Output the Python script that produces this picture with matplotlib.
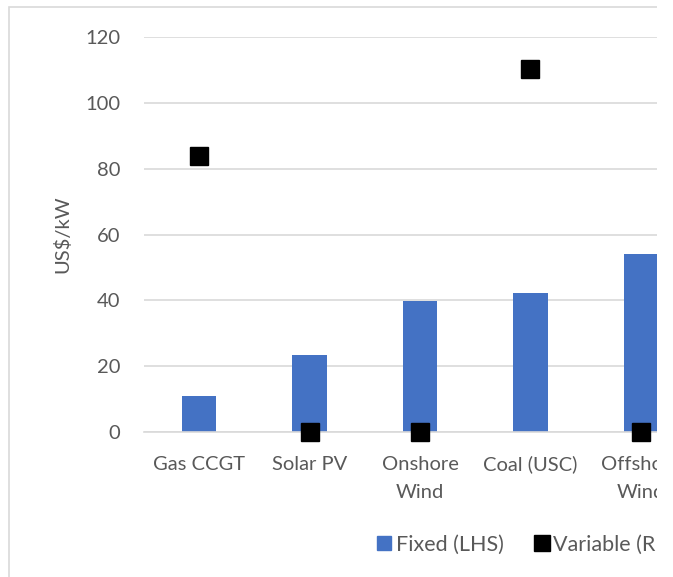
import matplotlib.pyplot as plt
from matplotlib.lines import Line2D
from matplotlib.patches import Rectangle

categories = ['Gas CCGT', 'Solar PV', 'Onshore\nWind', 'Coal (USC)', 'Offshore\nWind']
fixed = [10.9, 23.4, 39.8, 42.2, 54.1]
variable = [83.9, 0.0, 0.0, 110.3, 0.0]
yticks = [0, 20, 40, 60, 80, 100, 120]

plt.rcParams['font.family'] = ['Lato', 'DejaVu Sans']
grey_txt = '#595959'
grid_col = '#d9d9d9'
blue = '#4472c4'
fs = 14.5

W, H = 673, 577
fig = plt.figure(figsize=(W / 100, H / 100), dpi=100)

# chart area border (extends beyond the crop on the right / bottom)
fig.patches.append(Rectangle((9 / W, -0.1), 1.2, 1 - 7 / H + 0.1, transform=fig.transFigure,
                             fill=False, edgecolor=grid_col, linewidth=1.2, zorder=0))

ax = fig.add_axes([144 / W, 1 - 432 / H, 552 / W, (432 - 37) / H])
x = list(range(len(categories)))
ax.bar(x, fixed, width=0.31, color=blue, zorder=2)
ax.set_xlim(-0.5, len(categories) - 0.5)
ax.set_ylim(0, 120)
ax.set_yticks(yticks)
ax.set_xticks(x)
ax.set_xticklabels(categories, linespacing=1.8)
ax.yaxis.grid(True, color=grid_col, linewidth=1.2, zorder=0)
ax.set_axisbelow(True)
for s in ['top', 'right', 'left']:
    ax.spines[s].set_visible(False)
ax.spines['bottom'].set_color(grid_col)
ax.spines['bottom'].set_linewidth(1.2)
ax.tick_params(axis='both', length=0, labelsize=fs, colors=grey_txt)
ax.tick_params(axis='x', pad=17)
ax.tick_params(axis='y', pad=17)
ax.set_ylabel('US$/kW', fontsize=fs, color=grey_txt, labelpad=10)

ax2 = ax.twinx()
ax2.plot(x, variable, linestyle='none', marker='s', markersize=13,
         color='black', clip_on=False, zorder=3)
ax2.set_ylim(0, 120)
ax2.set_yticks([])
for s in ax2.spines.values():
    s.set_visible(False)

handles = [Line2D([], [], linestyle='none', marker='s', markersize=10, color=blue),
           Line2D([], [], linestyle='none', marker='s', markersize=12, color='black')]
fig.legend(handles, ['Fixed (LHS)', 'Variable (RHS)'], loc='center left',
           bbox_to_anchor=(368 / W, 1 - 545 / H), ncol=2, frameon=False,
           handlelength=0.7, handletextpad=0.2, columnspacing=1.4,
           borderaxespad=0, prop={'size': 15.5}, labelcolor=grey_txt)

# the source image is cut off on the right
fig.patches.append(Rectangle((657 / W, 0), 1, 1, transform=fig.transFigure,
                             facecolor='white', edgecolor='none', zorder=10))

fig.savefig('out.png', dpi=100)
